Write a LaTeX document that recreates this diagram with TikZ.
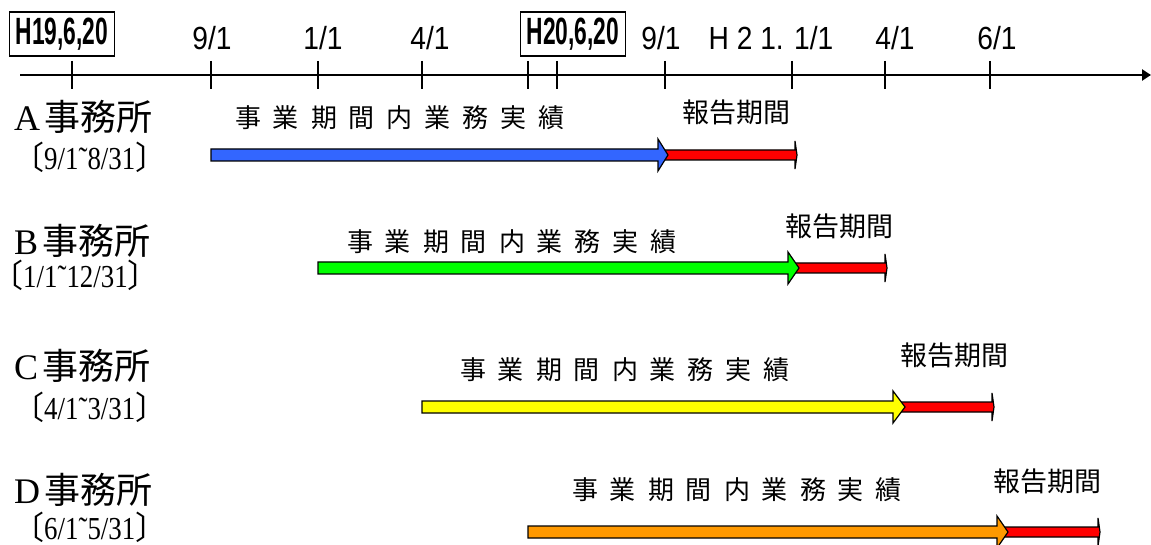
\documentclass[tikz,border=0pt]{standalone}
\usepackage{fontspec}
\setmainfont{Liberation Serif}
\newfontfamily\jpfont{Noto Sans CJK JP}
\newfontfamily\narrowsans[FakeStretch=0.88]{Liberation Sans}
\newfontfamily\boxfont[FakeStretch=0.6]{Liberation Sans}
\newfontfamily\narrowserif[FakeStretch=0.84]{Liberation Serif}
\usepackage{xcolor}
\usetikzlibrary{positioning}
\usetikzlibrary{arrows.meta}
\definecolor{barblue}{HTML}{3366FF}
\definecolor{bargreen}{HTML}{00FF00}
\definecolor{baryellow}{HTML}{FFFF00}
\definecolor{barorange}{HTML}{FF9900}
\definecolor{barred}{HTML}{FF0000}
\newcommand{\jisseki}{事\hspace{12pt}業\hspace{12pt}期\hspace{12pt}間\hspace{12pt}内\hspace{12pt}業\hspace{12pt}務\hspace{12pt}実\hspace{12pt}績}

\begin{document}
\begin{tikzpicture}[x=1pt,y=-1pt]
    \tikzset{datebox/.style={draw, line width=1.3pt, inner xsep=6pt, minimum height=44pt, font=\boxfont\bfseries\fontsize{38}{40}\selectfont}};
    \tikzset{datelbl/.style={font=\narrowsans\fontsize{32}{34}\selectfont}};
    \tikzset{office/.style={anchor=west, inner sep=0pt, font=\fontsize{36}{38}\selectfont}};
    \tikzset{term/.style={anchor=west, inner sep=0pt, font=\narrowserif\fontsize{32}{34}\selectfont}};
    \tikzset{work/.style={font=\jpfont\fontsize{26}{28}\selectfont}};
    \tikzset{report/.style={font=\jpfont\fontsize{27}{29}\selectfont}};
    \tikzset{bar/.style={draw=black, line width=1.2pt, line join=miter}};
    \useasboundingbox (0,0) rectangle (1151,545);
    % time axis
    \coordinate (axL) at (20,75);
    \coordinate (axR) at (1151,75);
    \draw[line width=2.4pt, -{Triangle[length=9pt,width=11pt]}] (axL) -- (axR);
    \foreach \x in {72,211,318,422,528,557,665,792,885,990}
      \draw[line width=1.4pt] (\x,61) -- (\x,89);
    \node[datebox] (h19) at (62,34) {H19,6,20};
    \node[datelbl] (sep1) at (212,38) {9/1};
    \node[datelbl] (jan1) at (323,38) {1/1};
    \node[datelbl] (apr1) at (430,38) {4/1};
    \node[datebox] (h20) at (573,34) {H20,6,20};
    \node[datelbl] (sep2) at (661,38) {9/1};
    \node[datelbl] (h21) at (771,38) {H 2 1. 1/1};
    \node[datelbl] (apr2) at (895,38) {4/1};
    \node[datelbl] (jun2) at (997,38) {6/1};
    % offices
    \node[office] (offA) at (14,117) {A\hspace{4pt}{\jpfont 事務所}};
    \node[term] (termA) at (12,157) {{\jpfont 〔}9/1˜8/31{\jpfont 〕}};
    \node[office] (offB) at (14,241) {B\hspace{4pt}{\jpfont 事務所}};
    \node[term] (termB) at (0,275) {\hspace*{-9pt}{\jpfont 〔}1/1˜12/31{\jpfont 〕}};
    \node[office] (offC) at (14,366) {C\hspace{4pt}{\jpfont 事務所}};
    \node[term] (termC) at (12,407) {{\jpfont 〔}4/1˜3/31{\jpfont 〕}};
    \node[office] (offD) at (14,490) {D\hspace{4pt}{\jpfont 事務所}};
    \node[term] (termD) at (12,527) {{\jpfont 〔}6/1˜5/31{\jpfont 〕}};
    % periods
    \node[work] (workA) at (400,118) {\jisseki};
    \node[work] (workB) at (512,242) {\jisseki};
    \node[work] (workC) at (625,370) {\jisseki};
    \node[work] (workD) at (737,490) {\jisseki};
    \node[report] (repA) at (736,112) {報告期間};
    \node[report] (repB) at (839,226) {報告期間};
    \node[report] (repC) at (954,355) {報告期間};
    \node[report] (repD) at (1047,481) {報告期間};
    \foreach \y/\s/\h/\t/\e/\c in {155/211/658/668/795/barblue,268/318/788/799/885/bargreen,407/422/893/905/992/baryellow,532/528/997/1008/1098/barorange}{
      \draw[bar, fill=barred] (\h+2,\y-5) -- (\e,\y-5) -- (\e,\y-14) -- (\e+2,\y) -- (\e,\y+14) -- (\e,\y+5) -- (\h+2,\y+5) -- cycle;
      \draw[bar, fill=\c] (\s,\y-6) -- (\h,\y-6) -- (\h,\y-16) -- (\t,\y) -- (\h,\y+16) -- (\h,\y+6) -- (\s,\y+6) -- cycle;
    }
\end{tikzpicture}
\end{document}
